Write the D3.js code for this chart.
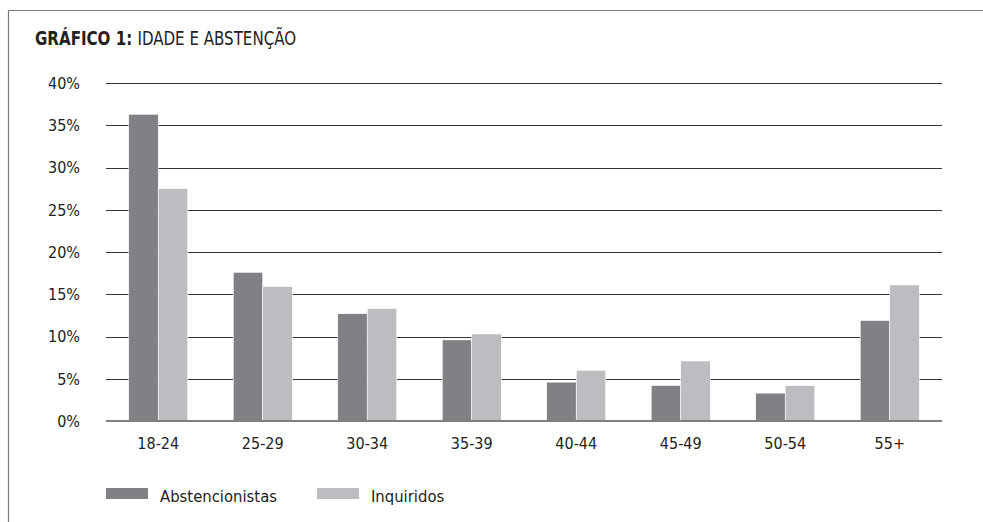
<!DOCTYPE html>
<html>
<head>
<meta charset="utf-8">
<script src="https://cdn.jsdelivr.net/npm/d3@7"></script>
<style>
  body { margin: 0; background: #fff; }
  text { font-family: "Liberation Sans Narrow", "DejaVu Sans Condensed", sans-serif; fill: #222; }
</style>
</head>
<body>
<div id="chart"></div>
<script>
const categories = ['18-24', '25-29', '30-34', '35-39', '40-44', '45-49', '50-54', '55+'];
const abstencionistas = [36.3, 17.6, 12.7, 9.6, 4.6, 4.2, 3.3, 11.9];
const inquiridos = [27.5, 15.9, 13.3, 10.3, 6.0, 7.1, 4.2, 16.1];
const seriesNames = ['Abstencionistas', 'Inquiridos'];
const yTicks = [0, 5, 10, 15, 20, 25, 30, 35, 40];

const colors = d3.scaleOrdinal(seriesNames, ['#808085', '#bcbdc0']);

const width = 983;
const height = 522;
const margin = { top: 83, right: 41, bottom: 101, left: 106 };

const svg = d3.select('#chart').append('svg')
  .attr('width', width)
  .attr('height', height);

// frame (top + left edge)
svg.append('path')
  .attr('d', `M8.5,${height}V10.5H${width}`)
  .attr('fill', 'none')
  .attr('stroke', '#7a7a7a')
  .attr('stroke-width', 1.2);

// title - squeezed horizontally to mimic the condensed face
const title = svg.append('g')
  .attr('transform', 'translate(35,45) scale(0.86,1)')
  .append('text')
  .style('font-size', '19.5px');
title.append('tspan').style('font-weight', 'bold').text('GRÁFICO 1: ');
title.append('tspan').text('IDADE E ABSTENÇÃO');

const x0 = d3.scaleBand()
  .domain(categories)
  .range([margin.left, width - margin.right])
  .paddingInner(0.435)
  .paddingOuter(0.2175);

const x1 = d3.scaleBand()
  .domain(seriesNames)
  .range([0, x0.bandwidth()]);

const y = d3.scaleLinear()
  .domain([0, 40])
  .range([height - margin.bottom, margin.top]);

// gridlines
svg.append('g')
  .selectAll('line')
  .data(yTicks.filter(d => d > 0))
  .join('line')
  .attr('x1', margin.left)
  .attr('x2', width - margin.right)
  .attr('y1', d => Math.round(y(d)) + 0.5)
  .attr('y2', d => Math.round(y(d)) + 0.5)
  .attr('stroke', '#333')
  .attr('stroke-width', 1.2);

// y labels
svg.append('g')
  .selectAll('text')
  .data(yTicks)
  .join('text')
  .attr('x', 80)
  .attr('y', d => y(d))
  .attr('dy', '0.36em')
  .attr('text-anchor', 'end')
  .style('font-size', '16px')
  .text(d => d + '%');

const rows = categories.map((c, i) => ({
  cat: c,
  values: [
    { key: seriesNames[0], value: abstencionistas[i] },
    { key: seriesNames[1], value: inquiridos[i] },
  ],
}));

svg.append('g')
  .selectAll('g')
  .data(rows)
  .join('g')
  .attr('transform', d => `translate(${x0(d.cat)},0)`)
  .selectAll('rect')
  .data(d => d.values)
  .join('rect')
  .attr('x', d => x1(d.key))
  .attr('width', x1.bandwidth())
  .attr('y', d => y(d.value))
  .attr('height', d => y(0) - y(d.value))
  .attr('fill', d => colors(d.key))
  .attr('stroke', '#fff')
  .attr('stroke-width', 0.6);

// baseline
svg.append('line')
  .attr('x1', margin.left)
  .attr('x2', width - margin.right)
  .attr('y1', y(0))
  .attr('y2', y(0))
  .attr('stroke', '#808080')
  .attr('stroke-width', 2);

// x labels
svg.append('g')
  .selectAll('text')
  .data(categories)
  .join('text')
  .attr('x', d => x0(d) + x0.bandwidth() / 2)
  .attr('y', 449)
  .attr('text-anchor', 'middle')
  .style('font-size', '16px')
  .text(d => d);

// legend
const legendX = [106, 317];
const legend = svg.append('g')
  .selectAll('g')
  .data(seriesNames)
  .join('g')
  .attr('transform', (d, i) => `translate(${legendX[i]},488)`);

legend.append('rect')
  .attr('width', 42)
  .attr('height', 11)
  .attr('fill', d => colors(d));

legend.append('text')
  .attr('x', 54)
  .attr('y', 14)
  .style('font-size', '16.5px')
  .text(d => d);
</script>
</body>
</html>
